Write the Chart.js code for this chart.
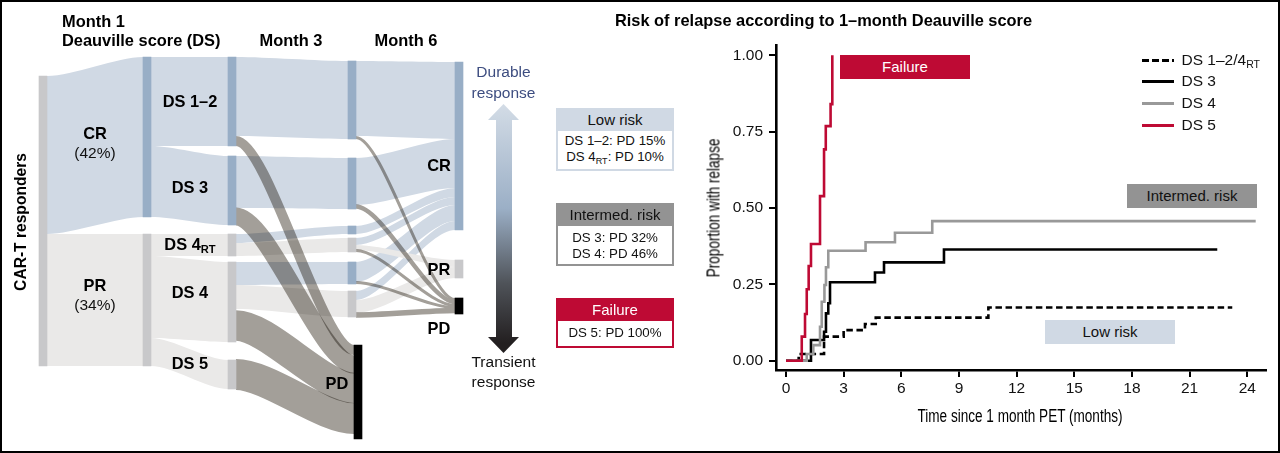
<!DOCTYPE html>
<html>
<head>
<meta charset="utf-8">
<script src="https://cdn.jsdelivr.net/npm/chart.js@4"></script>
<style>
  html, body { margin: 0; padding: 0; background: #fff; }
  #page { position: relative; width: 1280px; height: 453px; overflow: hidden; font-family: "Liberation Sans", Arial, sans-serif; color: #111; }
  #frame { position: absolute; inset: 0; border: 2px solid #000; box-sizing: border-box; pointer-events: none; }
  #flow { position: absolute; left: 0; top: 0; }
  #km { position: absolute; left: 700px; top: 0; }
  .label { position: absolute; transform: translate(-50%, -50%); white-space: nowrap; font-size: 15.5px; }
  .label.left { transform: translate(0, -50%); }
  .bold { font-weight: bold; font-size: 16.4px; color: #000; }
  sub { font-size: 0.68em; line-height: 0; vertical-align: -0.3em; }
  .card { position: absolute; left: 556px; width: 118px; box-sizing: border-box; border: 2px solid; text-align: center; background: #fff; }
  .card .head { font-size: 15px; height: 22px; line-height: 21px; margin: -1px 0 0; }
  .card .body { font-size: 13.3px; line-height: 15.5px; padding-top: 4px; }
  .tag { position: absolute; font-size: 15px; height: 24px; line-height: 24px; width: 130px; text-align: center; }
  #arrow { position: absolute; left: 488px; top: 104px; width: 31px; height: 249px;
    background: linear-gradient(180deg, #d3dce6 0%, #9bafc6 42%, #4f5359 72%, #231f20 96%);
    clip-path: polygon(15.5px 0, 31px 16px, 24px 16px, 24px 233px, 31px 233px, 15.5px 249px, 0 233px, 8px 233px, 8px 16px, 0 16px); }
  .swatch { position: absolute; left: 1142px; width: 32px; height: 3px; }
  .axis-title { font-size: 17.5px; color: #000; }
</style>
</head>
<body>
<div id="page">
  <canvas id="flow" width="700" height="453" style="width:700px;height:453px"></canvas>
  <canvas id="km" width="580" height="453" style="width:580px;height:453px"></canvas>
  <div id="arrow"></div>
  <div class="card" style="top:108px;height:63px;border-color:#d0d9e4">
    <div class="head" style="background:#d0d9e4">Low risk</div>
    <div class="body" style="padding-top:2px">DS 1&#8211;2: PD 15%<br>DS 4<sub>RT</sub>: PD 10%</div>
  </div>
  <div class="card" style="top:203px;height:63px;border-color:#939393">
    <div class="head" style="background:#939393">Intermed. risk</div>
    <div class="body">DS 3: PD 32%<br>DS 4: PD 46%</div>
  </div>
  <div class="card" style="top:298px;height:50px;border-color:#be0a34">
    <div class="head" style="background:#be0a34;color:#fff">Failure</div>
    <div class="body">DS 5: PD 100%</div>
  </div>
  <div class="tag" style="left:840px;top:55px;background:#be0a34;color:#fff">Failure</div>
  <div class="tag" style="left:1127px;top:184px;background:#939393">Intermed. risk</div>
  <div class="tag" style="left:1045px;top:320px;background:#d0d9e4">Low risk</div>
  <div id="texts"></div>
  <div id="legend"></div>
  <div id="frame"></div>
</div>
<script>
// Flow diagram: node ranges and link ranges on the diagram's own vertical axis
const stageCenters = [43, 147, 232, 352, 358, 459];

// [stage, start, end]
const blueNodes = [[1, 57, 217], [2, 57, 146], [2, 156, 225], [3, 61, 139], [3, 158, 209], [3, 226, 234], [3, 262, 284], [5, 62, 230]];
const greyNodes = [[0, 76, 366], [1, 234, 366], [2, 234, 256], [2, 262, 342], [2, 360, 389], [3, 238, 252], [3, 291, 317], [5, 260, 278]];
const blackNodes = [[4, 345, 439], [5, 298, 314]];

// [fromStage, toStage, fromTop, fromBottom, toTop, toBottom]
const blueLinks = [
  [0, 1, 76, 234, 57, 217],
  [1, 2, 57, 146, 57, 146],
  [1, 2, 146, 217, 156, 225],
  [2, 3, 57, 136, 61, 139],
  [2, 3, 156, 208, 158, 209],
  [2, 3, 234, 243, 226, 234],
  [2, 3, 262, 285, 262, 284],
  [3, 5, 61, 136, 62, 139],
  [3, 5, 158, 205, 139, 188],
  [3, 5, 226, 234, 188, 197],
  [3, 5, 238, 245, 197, 205],
  [3, 5, 262, 282, 205, 221],
  [3, 5, 291, 300, 221, 230]
];
const greyLinks = [
  [0, 1, 234, 366, 234, 366],
  [1, 2, 234, 256, 234, 256],
  [1, 2, 256, 338, 262, 342],
  [1, 2, 338, 366, 360, 389],
  [2, 3, 243, 256, 238, 252],
  [2, 3, 285, 309, 291, 317],
  [3, 5, 245, 250, 260, 267],
  [3, 5, 300, 313, 267, 278]
];
const earlyRelapseLinks = [
  [2, 4, 136, 146, 345, 355],
  [2, 4, 208, 225, 355, 374],
  [2, 4, 309, 342, 374, 402],
  [2, 4, 360, 389, 402, 435]
];
const lateRelapseLinks = [
  [3, 5, 136, 139, 298, 301],
  [3, 5, 204, 209, 300, 304],
  [3, 5, 249, 252, 304, 307],
  [3, 5, 281, 284, 306, 309],
  [3, 5, 313, 317, 307, 314]
];

// Cumulative relapse curves, months and proportion
const lowMonths = [0, 0.66, 1.98, 3.0, 4.11, 4.67, 10.53, 23.22];
const lowRelapse = [0, 0.022, 0.079, 0.1, 0.12, 0.141, 0.174, 0.174];
const ds3Months = [0, 1.3, 1.98, 2.08, 2.2, 2.29, 4.63, 5.1, 8.22, 22.44];
const ds3Relapse = [0, 0.068, 0.095, 0.155, 0.188, 0.257, 0.289, 0.322, 0.364, 0.364];
const ds4Months = [0, 1.08, 1.42, 1.77, 1.86, 2.0, 2.08, 2.2, 4.14, 5.67, 7.61, 24.44];
const ds4Relapse = [0, 0.022, 0.051, 0.111, 0.193, 0.248, 0.306, 0.36, 0.388, 0.419, 0.457, 0.457];
const ds5Months = [0, 0.82, 0.99, 1.08, 1.18, 1.3, 1.77, 1.98, 2.07, 2.32, 2.41];
const ds5Relapse = [0, 0.079, 0.153, 0.234, 0.31, 0.382, 0.539, 0.692, 0.768, 0.84, 1];

const xTickValues = [0, 3, 6, 9, 12, 15, 18, 21, 24];
const yTickValues = [0, 0.25, 0.5, 0.75, 1];
const legendLabels = ['DS 1&#8211;2/4<sub>RT</sub>', 'DS 3', 'DS 4', 'DS 5'];

const NODE_WIDTH = 8;
const CURVATURE = 0.27;
const bandBlue = '#d0d9e4', bandGrey = '#eae9e8', bandRelapse = '#a39f99';

// Draws the links behind the node bars, going through the chart's scales
const ribbonPlugin = {
  id: 'ribbons',
  beforeDatasetsDraw(chart) {
    const { ctx, scales: { x, y } } = chart;
    const linkEnds = ([from, to]) => {
      const x0 = x.getPixelForValue(stageCenters[from] + NODE_WIDTH / 2);
      const x1 = x.getPixelForValue(stageCenters[to] - NODE_WIDTH / 2);
      return [x0, x1, x0 + (x1 - x0) * CURVATURE, x1 - (x1 - x0) * CURVATURE];
    };
    const fillLinks = links => links.forEach(link => {
      const [, , a0, a1, b0, b1] = link;
      const [x0, x1, c0, c1] = linkEnds(link);
      ctx.beginPath();
      ctx.moveTo(x0, y.getPixelForValue(a0));
      ctx.bezierCurveTo(c0, y.getPixelForValue(a0), c1, y.getPixelForValue(b0), x1, y.getPixelForValue(b0));
      ctx.lineTo(x1, y.getPixelForValue(b1));
      ctx.bezierCurveTo(c1, y.getPixelForValue(b1), c0, y.getPixelForValue(a1), x0, y.getPixelForValue(a1));
      ctx.closePath();
      ctx.fill();
    });
    // Relapse links keep their thickness along the curve, so they are stroked
    const strokeLink = (target, link) => {
      const [, , a0, a1, b0, b1] = link;
      const [x0, x1, c0, c1] = linkEnds(link);
      const ya = y.getPixelForValue((a0 + a1) / 2);
      const yb = y.getPixelForValue((b0 + b1) / 2);
      target.lineWidth = Math.abs(y.getPixelForValue(a1) - y.getPixelForValue(a0) + y.getPixelForValue(b1) - y.getPixelForValue(b0)) / 2;
      target.beginPath();
      target.moveTo(x0, ya);
      target.bezierCurveTo(c0, ya, c1, yb, x1, yb);
      target.stroke();
    };
    ctx.save();
    ctx.fillStyle = bandBlue;
    fillLinks(blueLinks);
    ctx.fillStyle = bandGrey;
    fillLinks(greyLinks);
    // overlaps with the bands underneath get darker, as in the figure
    ctx.globalCompositeOperation = 'multiply';
    ctx.strokeStyle = bandRelapse;
    earlyRelapseLinks.forEach(link => strokeLink(ctx, link));
    // the thin late links merge where they fan in, so they go through one layer
    const layer = document.createElement('canvas');
    layer.width = chart.canvas.width;
    layer.height = chart.canvas.height;
    const layerCtx = layer.getContext('2d');
    layerCtx.scale(chart.currentDevicePixelRatio, chart.currentDevicePixelRatio);
    layerCtx.strokeStyle = bandRelapse;
    lateRelapseLinks.forEach(link => strokeLink(layerCtx, link));
    ctx.drawImage(layer, 0, 0, chart.width, chart.height);
    ctx.restore();
  }
};

const nodeDataset = (nodes, color) => ({
  data: nodes.map(([stage, start, end]) => ({ x: stageCenters[stage], y: [start, end] })),
  backgroundColor: color,
  barThickness: NODE_WIDTH,
  grouped: false
});

new Chart(document.getElementById('flow'), {
  type: 'bar',
  data: {
    datasets: [nodeDataset(blueNodes, '#98aec6'), nodeDataset(greyNodes, '#c8c8ca'), nodeDataset(blackNodes, '#000')]
  },
  options: {
    responsive: false,
    animation: false,
    events: [],
    layout: { padding: 0 },
    plugins: { legend: { display: false }, tooltip: { enabled: false } },
    scales: {
      x: { type: 'linear', min: 0, max: 700, offset: false, display: false },
      y: { type: 'linear', min: 0, max: 453, reverse: true, display: false }
    }
  },
  plugins: [ribbonPlugin]
});

const curve = (label, months, relapse, color, order, dash) => ({
  label,
  data: months.map((m, i) => ({ x: m, y: relapse[i] })),
  borderColor: color,
  borderWidth: 2.6,
  borderDash: dash || [],
  borderJoinStyle: 'miter',
  borderCapStyle: 'butt',
  stepped: true,
  pointRadius: 0,
  order
});

const axisFont = { family: '"Liberation Sans", Arial, sans-serif', size: 15.5 };

new Chart(document.getElementById('km'), {
  type: 'line',
  data: {
    datasets: [
      curve('DS 5', ds5Months, ds5Relapse, '#be0a34', 0),
      curve('DS 4', ds4Months, ds4Relapse, '#999999', 1),
      curve('DS 3', ds3Months, ds3Relapse, '#000000', 2),
      curve('DS 1-2/4RT', lowMonths, lowRelapse, '#000000', 3, [6.5, 3.6])
    ]
  },
  options: {
    responsive: false,
    animation: false,
    events: [],
    layout: { padding: { top: 45, right: 14.3, bottom: 0, left: 0 } },
    plugins: { legend: { display: false }, tooltip: { enabled: false } },
    scales: {
      x: {
        type: 'linear',
        min: -0.52,
        max: 24.96,
        afterBuildTicks: scale => { scale.ticks = xTickValues.map(value => ({ value })); },
        afterFit: scale => { scale.height = 83; },
        ticks: { color: '#111', font: axisFont, padding: 2, maxRotation: 0, autoSkip: false },
        grid: { drawOnChartArea: false, tickLength: 7, tickColor: '#000', lineWidth: 2 },
        border: { color: '#000', width: 2.6 }
      },
      y: {
        type: 'linear',
        min: -0.0304,
        max: 1.0337,
        afterBuildTicks: scale => { scale.ticks = yTickValues.map(value => ({ value })); },
        afterFit: scale => { scale.width = 76; },
        ticks: { color: '#111', font: axisFont, padding: 6, autoSkip: false, callback: value => value.toFixed(2) },
        grid: { drawOnChartArea: false, tickLength: 7, tickColor: '#000', lineWidth: 2 },
        border: { color: '#000', width: 2.6 }
      }
    }
  }
});

// Text placed over the charts: [html, x, y, class]
const textLabels = [
  ['Month 1', 62, 21, 'bold left'],
  ['Deauville score (DS)', 62, 40, 'bold left'],
  ['Month 3', 291, 40, 'bold'],
  ['Month 6', 406, 40, 'bold'],
  ['CR', 95, 133, 'bold'],
  ['(42%)', 95, 153, ''],
  ['PR', 95, 285, 'bold'],
  ['(34%)', 95, 305, ''],
  ['DS 1&#8211;2', 190, 101, 'bold'],
  ['DS 3', 190, 187, 'bold'],
  ['DS 4<sub>RT</sub>', 190, 244, 'bold'],
  ['DS 4', 190, 292, 'bold'],
  ['DS 5', 190, 363, 'bold'],
  ['PD', 337, 383, 'bold'],
  ['CR', 439, 165, 'bold'],
  ['PR', 439, 269, 'bold'],
  ['PD', 439, 328, 'bold'],
  ['Risk of relapse according to 1&#8211;month Deauville score', 823.5, 20, 'bold']
];
const textLayer = document.getElementById('texts');
const addText = (html, x, y, cls, color) => {
  const el = document.createElement('div');
  el.className = 'label ' + cls;
  el.style.left = x + 'px';
  el.style.top = y + 'px';
  if (color) el.style.color = color;
  el.innerHTML = html;
  textLayer.appendChild(el);
  return el;
};
textLabels.forEach(([html, x, y, cls]) => addText(html, x, y, cls));
const sideLabel = addText('CAR-T responders', 21, 222, 'bold');
sideLabel.style.transform = 'translate(-50%, -50%) rotate(-90deg)';
sideLabel.style.fontSize = '15.6px';
addText('Durable', 503.5, 72, '', '#3d4d80');
addText('response', 503.5, 93, '', '#3d4d80');
addText('Transient', 503.5, 362, '');
addText('response', 503.5, 382, '');

// Axis titles are set in a condensed cut of the font
addText('Time since 1 month PET (months)', 1020, 416, 'axis-title').style.transform = 'translate(-50%, -50%) scaleX(0.775)';
addText('Proportion with relapse', 714, 207.5, 'axis-title').style.transform = 'translate(-50%, -50%) rotate(-90deg) scaleX(0.775)';

// Legend
const legendRows = [60, 81, 103, 125];
const legendStyles = [
  'repeating-linear-gradient(90deg,#000 0 6.5px,transparent 6.5px 10px)',
  '#000', '#999999', '#be0a34'
];
legendLabels.forEach((html, i) => {
  const swatch = document.createElement('div');
  swatch.className = 'swatch';
  swatch.style.top = (legendRows[i] - 1) + 'px';
  swatch.style.background = legendStyles[i];
  document.getElementById('legend').appendChild(swatch);
  addText(html, 1181.5, legendRows[i], 'left');
});
</script>
</body>
</html>
